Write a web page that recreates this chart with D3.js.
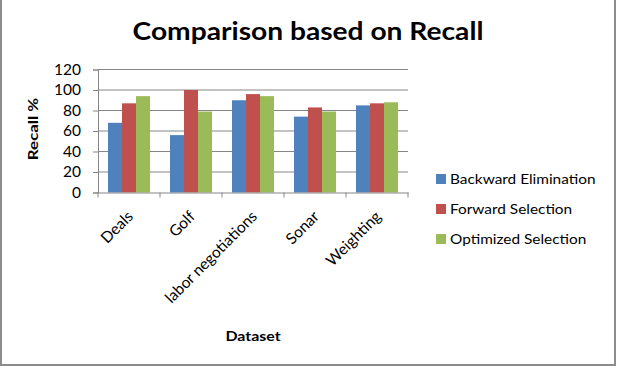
<!DOCTYPE html>
<html><head><meta charset="utf-8">
<script src="https://d3js.org/d3.v7.min.js"></script>
<style>body{margin:0;background:#fff}svg{display:block}</style>
</head><body>
<svg id="c" width="622" height="386"></svg>
<script>
const categories = ["Deals","Golf","labor negotiations","Sonar","Weighting"];
const seriesNames = ["Backward Elimination","Forward Selection","Optimized Selection"];
const backward = [68, 56, 90, 74, 85];
const forward = [87, 100, 96, 83, 87];
const optimized = [94, 79, 94, 79, 88];
const yTicks = [0,20,40,60,80,100,120];
const colors = ["#4F81BD","#C0504D","#9BBB59"];
const values = [backward, forward, optimized];

const svg = d3.select("#c");
const font = "Lato, 'Open Sans', sans-serif";
const L = 98, R = 408, T = 69.5, B = 192.5;

svg.append("rect").attr("x",1).attr("y",-1).attr("width",614).attr("height",366)
  .attr("fill","#fff").attr("stroke","#8c8c8c").attr("stroke-width",2);

const x0 = d3.scaleBand().domain(categories).range([L,R]).paddingInner(0.3226).paddingOuter(0.1613);
const x1 = d3.scaleBand().domain(seriesNames).range([0,x0.bandwidth()]);
const y = d3.scaleLinear().domain([0,120]).range([B,T]);

// gridlines
svg.append("g").selectAll("line").data(yTicks.filter(d=>d>0)).join("line")
  .attr("x1",L).attr("x2",R).attr("y1",d=>y(d)).attr("y2",d=>y(d))
  .attr("stroke","#868686").attr("stroke-width",1);

// y axis
const ya = svg.append("g").attr("transform",`translate(${L},0)`)
  .call(d3.axisLeft(y).tickValues(yTicks).tickSize(5).tickPadding(12));
ya.select(".domain").attr("stroke","#868686");
ya.selectAll(".tick line").attr("stroke","#868686");
ya.selectAll("text").attr("font-family",font).attr("font-size",15.5).attr("fill","#000");

// bars
const g = svg.append("g");
categories.forEach((c,i)=>{
  seriesNames.forEach((s,j)=>{
    g.append("rect").attr("x",x0(c)+x1(s)).attr("width",x1.bandwidth())
      .attr("y",y(values[j][i])).attr("height",B-y(values[j][i])).attr("fill",colors[j]);
  });
});

// x axis
const xa = svg.append("g").attr("transform",`translate(0,${B})`)
  .call(d3.axisBottom(x0).tickSize(0).tickFormat(""));
xa.select(".domain").attr("stroke","#868686");
const bounds = d3.range(categories.length+1).map(i=>L + i*(R-L)/categories.length);
svg.append("g").selectAll("line").data(bounds).join("line")
  .attr("x1",d=>d).attr("x2",d=>d).attr("y1",B).attr("y2",B+5).attr("stroke","#868686");
svg.append("g").selectAll("text").data(categories).join("text")
  .attr("transform",d=>`translate(${x0(d)+x0.bandwidth()/2+5},${B+25}) rotate(-45)`)
  .attr("text-anchor","end").attr("font-family",font).attr("font-size",15.5).attr("fill","#000")
  .text(d=>d);

// titles
svg.append("text").attr("transform","translate(308,40) scale(1.15,1)").attr("text-anchor","middle")
  .attr("font-family",font).attr("font-weight","bold").attr("font-size",24.5).text("Comparison based on Recall");
svg.append("text").attr("transform","translate(253,341) scale(1.18,1)").attr("text-anchor","middle")
  .attr("font-family",font).attr("font-weight","bold").attr("font-size",13.5).text("Dataset");
svg.append("text").attr("transform","translate(38,129) rotate(-90) scale(1.3,1)").attr("text-anchor","middle")
  .attr("font-family",font).attr("font-weight","bold").attr("font-size",13).text("Recall %");

// legend
const lg = svg.append("g");
seriesNames.forEach((s,j)=>{
  const yy = 179 + j*30;
  lg.append("rect").attr("x",436).attr("y",yy-5).attr("width",10).attr("height",10).attr("fill",colors[j]);
  lg.append("text").attr("transform",`translate(450,${yy+5}) scale(1.1,1)`).attr("font-family",font).attr("font-size",14).text(s);
});
</script>
</body></html>
